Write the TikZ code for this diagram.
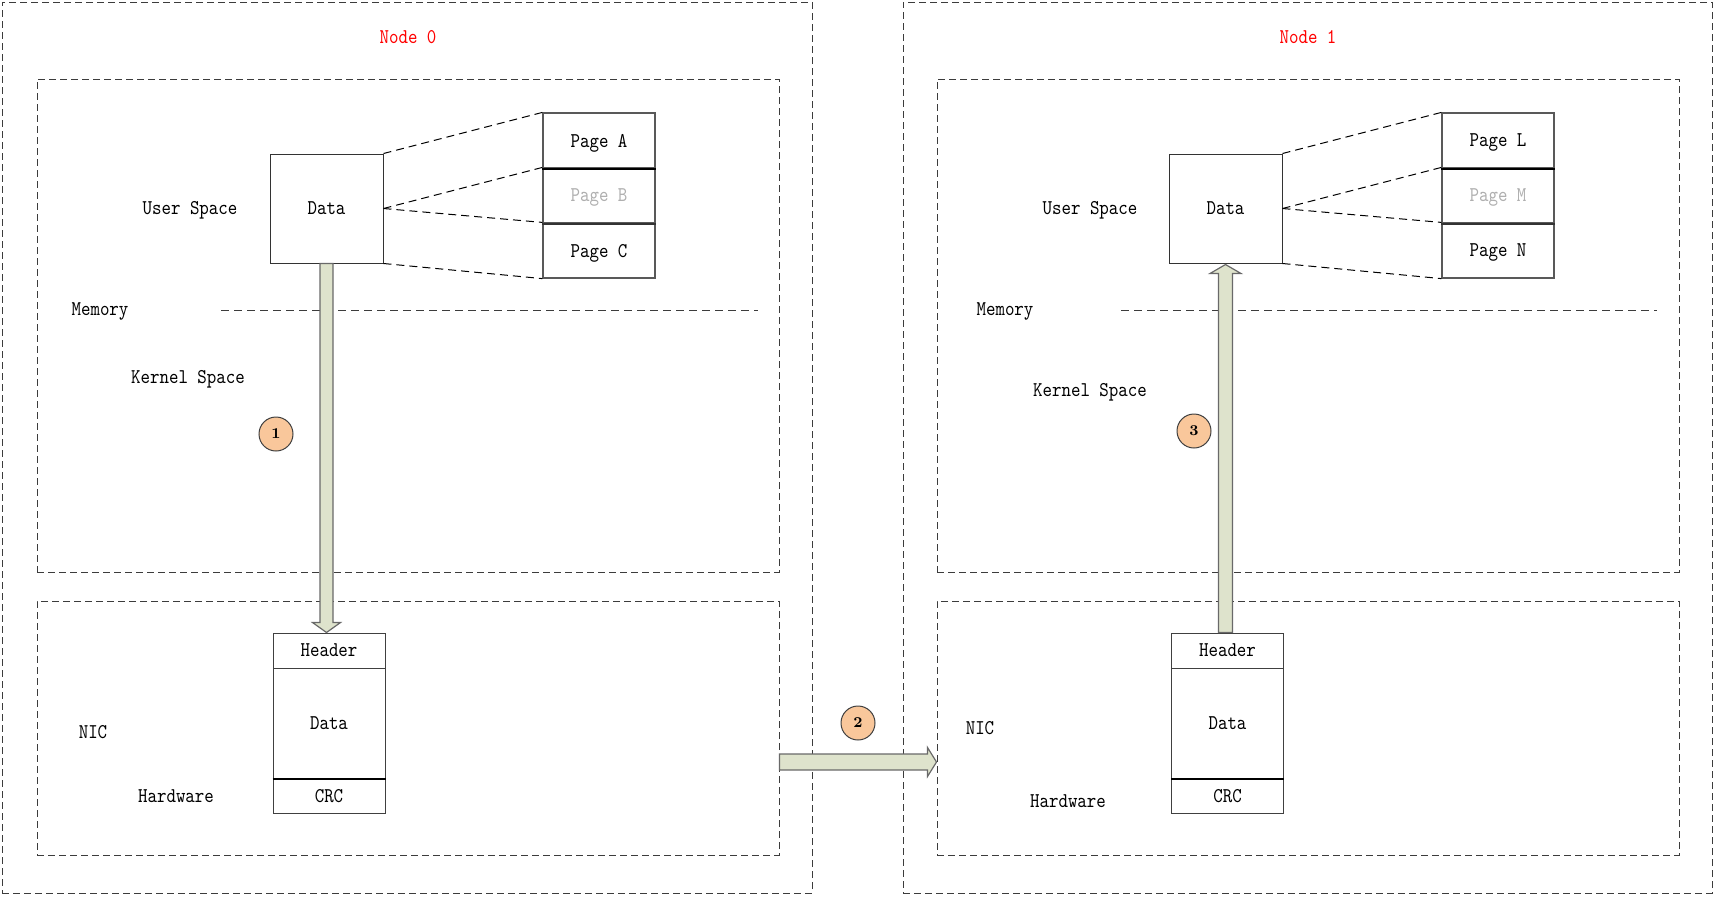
\documentclass[tikz,border=0pt]{standalone}
\usepackage{graphicx}
\usetikzlibrary{calc}
\definecolor{arrfill}{RGB}{222,227,204}
\definecolor{arrdraw}{RGB}{105,105,105}
\definecolor{numfill}{RGB}{249,199,155}
\definecolor{pagegray}{RGB}{175,175,175}
\definecolor{boxdash}{RGB}{60,60,60}
\newcommand\sq[1]{\scalebox{0.86}[1]{#1}}
\begin{document}
\begin{tikzpicture}[x=0.5pt,y=-0.5pt,
  txt/.style={font=\fontsize{10.5}{12}\selectfont\ttfamily, inner sep=0pt, text depth=0pt},
  redtxt/.style={txt, text=red},
  dashbox/.style={draw=boxdash, dash pattern=on 3.5pt off 2pt, line width=0.5pt, rectangle, inner sep=0pt},
  divline/.style={draw=boxdash, dash pattern=on 4pt off 2.5pt, line width=0.5pt},
  conn/.style={draw=black, dash pattern=on 4pt off 2.5pt, line width=0.5pt},
  databox/.style={txt, draw=black!80, line width=0.5pt, rectangle, minimum width=56.5pt, minimum height=54.5pt},
  pagebox/.style={txt, draw=black!65, line width=0.6pt, rectangle, minimum width=56pt, minimum height=27.5pt},
  pktbox/.style={txt, draw=black!75, line width=0.5pt, rectangle, minimum width=56pt},
  blk/.style={draw=arrdraw, fill=arrfill, line width=0.6pt, line join=miter},
  numc/.style={circle, draw=black!75, fill=numfill, line width=0.5pt, minimum size=17pt, inner sep=0pt, font=\fontsize{7.5}{8}\selectfont\bfseries}
]
\useasboundingbox (0,0) rectangle (1715,896);

% ---------- Node 0 ----------
\node[dashbox, minimum width=405pt, minimum height=445.5pt] (out0) at (407,447.5) {};
\node[dashbox, minimum width=371pt, minimum height=246.5pt] (mem0) at (408,325.5) {};
\node[dashbox, minimum width=371pt, minimum height=127pt] (nic0) at (408,728) {};
\node[redtxt] (t0) at (408,37) {\sq{Node 0}};
\draw[divline] (221,310) -- (758,310);

\node[txt] (us0) at (190,208) {\sq{User Space}};
\node[txt] (me0) at (100,309) {\sq{Memory}};
\node[txt] (ks0) at (188,377) {\sq{Kernel Space}};
\node[txt] (ni0) at (93,732) {\sq{NIC}};
\node[txt] (hw0) at (176,796) {\sq{Hardware}};

\node[databox] (d0) at (326.5,208.5) {\sq{Data}};
\node[pagebox] (pA) at (599,140.5) {\sq{Page A}};
\node[pagebox, text=pagegray] (pB) at (599,195.5) {\sq{Page B}};
\node[pagebox] (pC) at (599,250.5) {\sq{Page C}};
\draw[line width=1.1pt] (pA.south west) -- (pA.south east);
\draw[line width=1.1pt, black!80] (pB.south west) -- (pB.south east);
\draw[conn] (d0.north east) -- (pA.north west);
\draw[conn] (d0.east) -- (pB.north west);
\draw[conn] (d0.east) -- (pC.north west);
\draw[conn] (d0.south east) -- (pC.south west);

\node[pktbox, minimum height=17.5pt] (h0) at (329,650.5) {\sq{Header}};
\node[pktbox, minimum height=55pt] (b0) at (329,723) {\sq{Data}};
\node[pktbox, minimum height=17.5pt] (c0) at (329,795.5) {\sq{CRC}};
\draw[line width=1pt] (b0.south west) -- (b0.south east);

% ---------- Node 1 ----------
\node[dashbox, minimum width=404.5pt, minimum height=445.5pt] (out1) at (1307.5,447.5) {};
\node[dashbox, minimum width=371pt, minimum height=246.5pt] (mem1) at (1308,325.5) {};
\node[dashbox, minimum width=371pt, minimum height=127pt] (nic1) at (1308,728) {};
\node[redtxt] (t1) at (1308,37) {\sq{Node 1}};
\draw[divline] (1121,310) -- (1657,310);

\node[txt] (us1) at (1090,208) {\sq{User Space}};
\node[txt] (me1) at (1005,309) {\sq{Memory}};
\node[txt] (ks1) at (1090,390) {\sq{Kernel Space}};
\node[txt] (ni1) at (980,728) {\sq{NIC}};
\node[txt] (hw1) at (1068,801) {\sq{Hardware}};

\node[databox] (d1) at (1225.5,208.5) {\sq{Data}};
\node[pagebox] (pL) at (1498,140.5) {\sq{Page L}};
\node[pagebox, text=pagegray] (pM) at (1498,195.5) {\sq{Page M}};
\node[pagebox] (pN) at (1498,250.5) {\sq{Page N}};
\draw[line width=1.1pt] (pL.south west) -- (pL.south east);
\draw[line width=1.1pt, black!80] (pM.south west) -- (pM.south east);
\draw[conn] (d1.north east) -- (pL.north west);
\draw[conn] (d1.east) -- (pM.north west);
\draw[conn] (d1.east) -- (pN.north west);
\draw[conn] (d1.south east) -- (pN.south west);

\node[pktbox, minimum height=17.5pt] (h1) at (1227.5,650.5) {\sq{Header}};
\node[pktbox, minimum height=55pt] (b1) at (1227.5,723) {\sq{Data}};
\node[pktbox, minimum height=17.5pt] (c1) at (1227.5,795.5) {\sq{CRC}};
\draw[line width=1pt] (b1.south west) -- (b1.south east);

% ---------- Block arrows ----------
% Arrow 1: user data down to NIC packet
\coordinate (a1s) at (d0.south);
\coordinate (a1t) at (d0.south |- h0.north);
\draw[blk] ($(a1s)+(-6.5,0)$) -- ($(a1t)+(-6.5,-10)$) -- ($(a1t)+(-14,-10)$) -- (a1t)
  -- ($(a1t)+(14,-10)$) -- ($(a1t)+(6.5,-10)$) -- ($(a1s)+(6.5,0)$) -- cycle;

% Arrow 2: NIC 0 to NIC 1
\coordinate (a2s) at ($(nic0.east)+(0,34)$);
\coordinate (a2t) at ($(nic1.west)+(0,34)$);
\draw[blk] ($(a2s)+(0,-8)$) -- ($(a2t)+(-9,-8)$) -- ($(a2t)+(-9,-14.5)$) -- (a2t)
  -- ($(a2t)+(-9,14.5)$) -- ($(a2t)+(-9,8)$) -- ($(a2s)+(0,8)$) -- cycle;

% Arrow 3: NIC packet up to user data
\coordinate (a3s) at (d1.south |- h1.north);
\coordinate (a3t) at ($(d1.south)+(0,1)$);
\draw[blk] ($(a3s)+(-7,0)$) -- ($(a3t)+(-7,9)$) -- ($(a3t)+(-15.5,9)$) -- (a3t)
  -- ($(a3t)+(15.5,9)$) -- ($(a3t)+(7,9)$) -- ($(a3s)+(7,0)$) -- cycle;

% ---------- Step numbers ----------
\node[numc] (n1) at (276,434) {1};
\node[numc] (n2) at (858,723) {2};
\node[numc] (n3) at (1194,431) {3};
\end{tikzpicture}
\end{document}
